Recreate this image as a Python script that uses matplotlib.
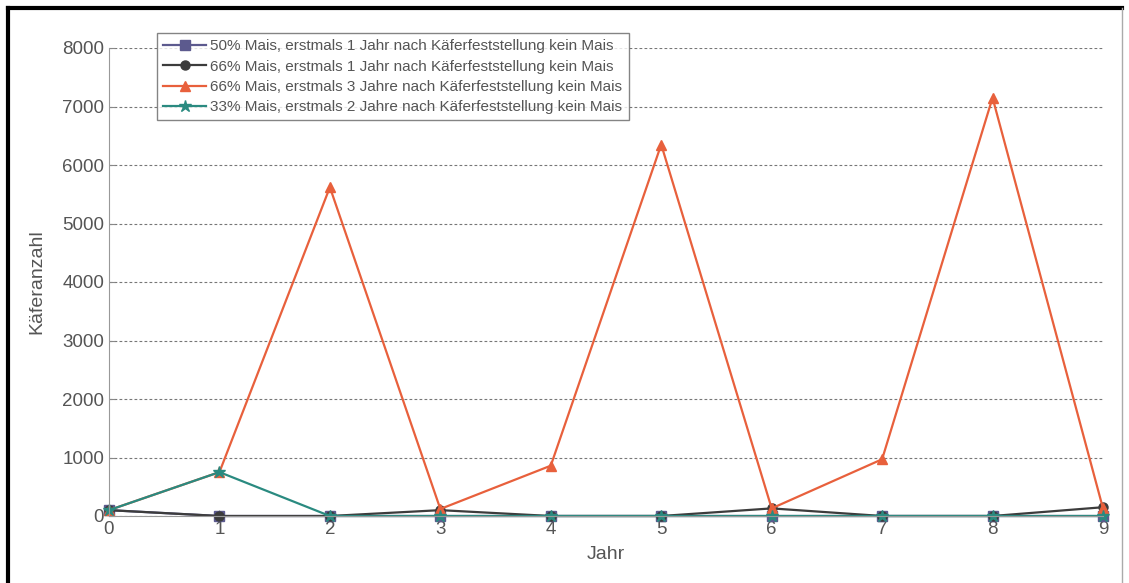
import matplotlib
matplotlib.use("Agg")
import matplotlib.pyplot as plt
from matplotlib.lines import Line2D

years = [0, 1, 2, 3, 4, 5, 6, 7, 8, 9]
labels = [
    "50% Mais, erstmals 1 Jahr nach Käferfeststellung kein Mais",
    "66% Mais, erstmals 1 Jahr nach Käferfeststellung kein Mais",
    "66% Mais, erstmals 3 Jahre nach Käferfeststellung kein Mais",
    "33% Mais, erstmals 2 Jahre nach Käferfeststellung kein Mais",
]
s50_1 = [100, 0, 0, 0, 0, 0, 0, 0, 0, 0]
s66_1 = [100, 0, 0, 100, 0, 0, 130, 0, 0, 150]
s66_3 = [100, 750, 5620, 120, 860, 6350, 130, 970, 7150, 130]
s33_2 = [100, 750, 0, 0, 0, 0, 0, 0, 0, 0]

colors = ["#5c5a8e", "#3c3c3c", "#e8603c", "#2a8a80"]
markers = ["s", "o", "^", "*"]
series = [s50_1, s66_1, s66_3, s33_2]

plt.rcParams['font.family'] = ['Liberation Sans', 'DejaVu Sans']
fig = plt.figure(figsize=(11.29, 5.83), dpi=100)
ax = fig.add_axes([109/1129, 1-516/583, (1103-109)/1129, (516-48)/583])

handles = []
for i in range(4):
    ms = 9 if markers[i] == "*" else 6.5
    h, = ax.plot(years, series[i], color=colors[i], marker=markers[i],
                 markersize=ms, linewidth=1.6, label=labels[i], clip_on=False)
    handles.append(h)

ax.set_xlim(0, 9)
ax.set_ylim(0, 8000)
ax.set_xticks(years)
ax.set_yticks(range(0, 8001, 1000))
ax.tick_params(direction='in', labelsize=13.5, labelcolor='#555555', color='#888888', length=4)
for sp in ['top', 'right']:
    ax.spines[sp].set_visible(False)
for sp in ['left', 'bottom']:
    ax.spines[sp].set_color('#999999')
ax.yaxis.grid(True, linestyle=(0, (2.5, 2)), color='#777777', linewidth=0.8)
ax.set_axisbelow(True)
ax.set_xlabel("Jahr", fontsize=14, color='#555555', labelpad=6)
ax.set_ylabel("Käferanzahl", fontsize=14, color='#555555', labelpad=12)

leg = ax.legend(handles=handles, loc='upper left', bbox_to_anchor=(157/1129, 1-33/583),
                bbox_transform=fig.transFigure, fontsize=11, frameon=True, fancybox=False,
                edgecolor='#666666', handlelength=2.8, labelspacing=0.42, borderpad=0.4,
                handletextpad=0.3, borderaxespad=0)
leg.get_frame().set_linewidth(1.0)
for t in leg.get_texts():
    t.set_color('#555555')

# outer frame
fig.add_artist(Line2D([8/1129, 8/1129], [0, 1-8/583], transform=fig.transFigure, color='black', linewidth=3))
fig.add_artist(Line2D([8/1129, 1122/1129], [1-8/583, 1-8/583], transform=fig.transFigure, color='black', linewidth=3))
fig.add_artist(Line2D([1122/1129, 1122/1129], [0, 1-8/583], transform=fig.transFigure, color='#aaaaaa', linewidth=1))

fig.savefig("out.png", dpi=100)
